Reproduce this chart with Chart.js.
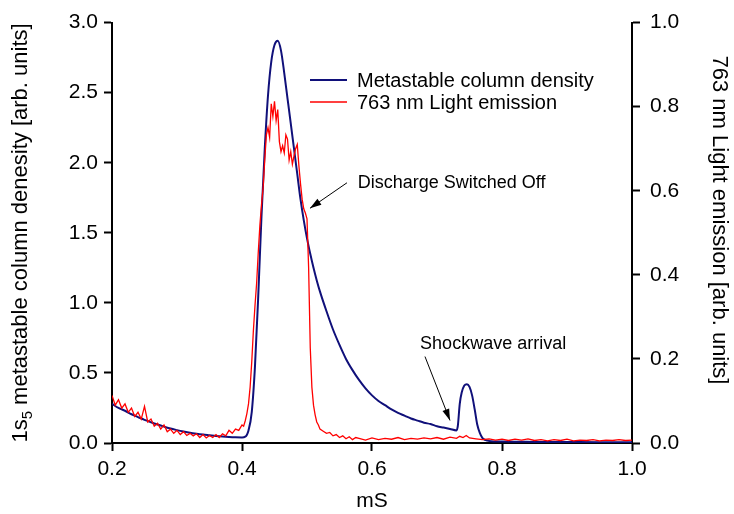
<!DOCTYPE html>
<html>
<head>
<meta charset="utf-8">
<script src="https://cdn.jsdelivr.net/npm/chart.js@4.4.1/dist/chart.umd.min.js"></script>
<style>
  body { margin: 0; background: #fff; }
  #wrap { width: 734px; height: 514px; }
</style>
</head>
<body>
<div id="wrap"><canvas id="chart" width="734" height="514"></canvas></div>
<script>
// time axis (mS)
var xTicks = [0.2, 0.4, 0.6, 0.8, 1.0];
var leftTicks = [0.0, 0.5, 1.0, 1.5, 2.0, 2.5, 3.0];
var rightTicks = [0.0, 0.2, 0.4, 0.6, 0.8, 1.0];

// metastable column density (left axis)
var metaMs = [0.20, 0.21, 0.22, 0.23, 0.24, 0.25, 0.26, 0.27, 0.28, 0.29,
  0.30, 0.31, 0.32, 0.33, 0.34, 0.35, 0.36, 0.37, 0.38, 0.39,
  0.40, 0.405, 0.41, 0.415, 0.42, 0.425, 0.43, 0.435, 0.44, 0.445,
  0.45, 0.455, 0.46, 0.465, 0.47, 0.475, 0.48, 0.485, 0.49, 0.495,
  0.50, 0.505, 0.51, 0.515, 0.52, 0.53, 0.54, 0.55, 0.56, 0.57, 0.58,
  0.59, 0.60, 0.61, 0.62, 0.63, 0.64, 0.65, 0.66, 0.67, 0.68,
  0.69, 0.70, 0.71, 0.72, 0.73, 0.732, 0.735, 0.738, 0.742, 0.746,
  0.750, 0.754, 0.758, 0.762, 0.766, 0.770, 0.775, 0.78, 0.80, 0.85,
  0.90, 0.95, 1.00];
var metaDensity = [0.28, 0.25, 0.23, 0.205, 0.185, 0.165, 0.148, 0.132, 0.117, 0.103,
  0.092, 0.082, 0.073, 0.066, 0.060, 0.055, 0.050, 0.046, 0.043, 0.041,
  0.040, 0.045, 0.09, 0.22, 0.55, 1.05, 1.62, 2.10, 2.48, 2.72,
  2.84, 2.87, 2.80, 2.64, 2.46, 2.28, 2.10, 1.92, 1.74, 1.59,
  1.46, 1.35, 1.25, 1.16, 1.08, 0.94, 0.81, 0.70, 0.60, 0.52, 0.45,
  0.39, 0.34, 0.30, 0.27, 0.24, 0.215, 0.195, 0.175, 0.16, 0.145,
  0.135, 0.12, 0.11, 0.10, 0.09, 0.12, 0.28, 0.36, 0.41, 0.42,
  0.40, 0.34, 0.24, 0.13, 0.07, 0.035, 0.02, 0.015, 0.01, 0.008,
  0.007, 0.006, 0.006];

// 763 nm light emission (right axis)
var lightMs = [0.200, 0.205, 0.210, 0.215, 0.220, 0.225, 0.230, 0.235, 0.240, 0.245,
  0.250, 0.255, 0.260, 0.265, 0.270, 0.275, 0.280, 0.285, 0.290, 0.295,
  0.300, 0.305, 0.310, 0.315, 0.320, 0.325, 0.330, 0.335, 0.340, 0.345,
  0.350, 0.355, 0.360, 0.365, 0.370, 0.375, 0.380, 0.385, 0.390, 0.395,
  0.400, 0.4025, 0.405, 0.4075, 0.410, 0.4125, 0.415, 0.4175, 0.420, 0.4225,
  0.425, 0.4275, 0.430, 0.4325, 0.435, 0.4375, 0.440, 0.4425, 0.445, 0.4475,
  0.450, 0.4525, 0.455, 0.4575, 0.460, 0.4625, 0.465, 0.4675, 0.470, 0.4725,
  0.475, 0.4775, 0.480, 0.4825, 0.485, 0.4875, 0.490, 0.4925, 0.495, 0.4975,
  0.500, 0.5025, 0.505, 0.5075, 0.510, 0.5125, 0.515, 0.5175, 0.520, 0.525,
  0.530, 0.535, 0.540, 0.545, 0.550, 0.555, 0.560, 0.565, 0.570, 0.575,
  0.58, 0.59, 0.60, 0.61, 0.62, 0.63, 0.64, 0.65, 0.66, 0.67,
  0.68, 0.69, 0.70, 0.71, 0.72, 0.73, 0.735, 0.74, 0.745, 0.75,
  0.76, 0.77, 0.78, 0.79, 0.80, 0.81, 0.82, 0.83, 0.84, 0.85,
  0.86, 0.87, 0.88, 0.89, 0.90, 0.91, 0.92, 0.93, 0.94, 0.95,
  0.96, 0.97, 0.98, 0.99, 1.00];
var lightEmission = [0.113, 0.090, 0.103, 0.083, 0.093, 0.073, 0.083, 0.063, 0.073, 0.057,
  0.087, 0.050, 0.057, 0.040, 0.047, 0.033, 0.043, 0.027, 0.033, 0.023,
  0.030, 0.020, 0.027, 0.018, 0.023, 0.017, 0.022, 0.013, 0.020, 0.012,
  0.018, 0.013, 0.020, 0.013, 0.022, 0.017, 0.030, 0.023, 0.033, 0.030,
  0.043, 0.040, 0.053, 0.070, 0.093, 0.133, 0.193, 0.267, 0.327, 0.380,
  0.453, 0.517, 0.567, 0.607, 0.673, 0.733, 0.750, 0.727, 0.807, 0.777,
  0.813, 0.767, 0.793, 0.717, 0.693, 0.707, 0.690, 0.733, 0.723, 0.673,
  0.693, 0.663, 0.683, 0.700, 0.710, 0.660, 0.617, 0.580, 0.557, 0.547,
  0.533, 0.417, 0.227, 0.133, 0.090, 0.067, 0.050, 0.043, 0.033, 0.028,
  0.023, 0.025, 0.017, 0.020, 0.013, 0.017, 0.010, 0.015, 0.008, 0.013,
  0.011, 0.007, 0.012, 0.008, 0.011, 0.009, 0.013, 0.008, 0.011, 0.009,
  0.012, 0.010, 0.013, 0.009, 0.014, 0.011, 0.016, 0.013, 0.018, 0.012,
  0.010, 0.008, 0.010, 0.007, 0.009, 0.006, 0.009, 0.007, 0.010, 0.006,
  0.008, 0.005, 0.008, 0.006, 0.009, 0.005, 0.007, 0.006, 0.008, 0.005,
  0.007, 0.006, 0.008, 0.006, 0.007];

var seriesNames = ['Metastable column density', '763 nm Light emission'];
var leftTitle = ['1s', '5', ' metastable column denesity [arb. units]'];
var rightTitle = '763 nm Light emission [arb. units]';

// arrows, in data units of the left axis
var notes = [
  { text: 'Discharge Switched Off', tx: 0.578, ty: 1.857, x0: 0.5615, y0: 1.857, x1: 0.5046, y1: 1.675 },
  { text: 'Shockwave arrival', tx: 0.674, ty: 0.708, x0: 0.6815, y0: 0.617, x1: 0.720, y1: 0.161 }
];

var FONT = '"Liberation Sans", Arial, Helvetica, sans-serif';
var BLUE = '#10107a';
var RED = '#ff0000';

var toPoints = function(xs, ys) {
  return xs.map(function(x, i) { return { x: x, y: ys[i] }; });
};

var axisGrid = { drawOnChartArea: false, drawTicks: true, tickLength: 8, tickColor: '#000', tickWidth: 2, color: '#000' };
var axisBorder = { display: true, color: '#000', width: 2 };
var tickFont = { family: FONT, size: 21 };

var extras = {
  id: 'extras',
  afterDraw: function(chart) {
    var ctx = chart.ctx;
    var xs = chart.scales.x, ys = chart.scales.yL;
    ctx.save();

    // legend
    var lx = 310, ly = 80;
    [BLUE, RED].forEach(function(col, i) {
      ctx.strokeStyle = col;
      ctx.lineWidth = i === 0 ? 2 : 1.5;
      ctx.beginPath();
      ctx.moveTo(lx, ly + i * 22);
      ctx.lineTo(lx + 37, ly + i * 22);
      ctx.stroke();
      ctx.fillStyle = '#000';
      ctx.font = '20px ' + FONT;
      ctx.textAlign = 'left';
      ctx.textBaseline = 'middle';
      ctx.fillText(seriesNames[i], lx + 47, ly + i * 22 + 1);
    });

    // annotations
    notes.forEach(function(n) {
      var px0 = xs.getPixelForValue(n.x0), py0 = ys.getPixelForValue(n.y0);
      var px1 = xs.getPixelForValue(n.x1), py1 = ys.getPixelForValue(n.y1);
      ctx.strokeStyle = '#000';
      ctx.fillStyle = '#000';
      ctx.lineWidth = 1;
      ctx.beginPath();
      ctx.moveTo(px0, py0);
      ctx.lineTo(px1, py1);
      ctx.stroke();
      var a = Math.atan2(py1 - py0, px1 - px0);
      ctx.beginPath();
      ctx.moveTo(px1, py1);
      ctx.lineTo(px1 - 12 * Math.cos(a - 0.3), py1 - 12 * Math.sin(a - 0.3));
      ctx.lineTo(px1 - 12 * Math.cos(a + 0.3), py1 - 12 * Math.sin(a + 0.3));
      ctx.closePath();
      ctx.fill();
      ctx.font = '18px ' + FONT;
      ctx.textAlign = 'left';
      ctx.textBaseline = 'middle';
      ctx.fillText(n.text, xs.getPixelForValue(n.tx), ys.getPixelForValue(n.ty));
    });

    // left axis title with subscript
    ctx.save();
    ctx.translate(21, 233);
    ctx.rotate(-Math.PI / 2);
    ctx.fillStyle = '#000';
    ctx.textBaseline = 'middle';
    ctx.textAlign = 'left';
    var big = '22px ' + FONT, small = '15px ' + FONT;
    ctx.font = big;
    var w0 = ctx.measureText(leftTitle[0]).width;
    var w2 = ctx.measureText(leftTitle[2]).width;
    ctx.font = small;
    var w1 = ctx.measureText(leftTitle[1]).width;
    var start = -(w0 + w1 + w2) / 2;
    ctx.font = big;
    ctx.fillText(leftTitle[0], start, 0);
    ctx.font = small;
    ctx.fillText(leftTitle[1], start + w0, 7);
    ctx.font = big;
    ctx.fillText(leftTitle[2], start + w0 + w1, 0);
    ctx.restore();

    // right axis title
    ctx.save();
    ctx.translate(719, 220);
    ctx.rotate(Math.PI / 2);
    ctx.fillStyle = '#000';
    ctx.font = '22px ' + FONT;
    ctx.textAlign = 'center';
    ctx.textBaseline = 'middle';
    ctx.fillText(rightTitle, 0, 0);
    ctx.restore();

    ctx.restore();
  }
};

var chart = new Chart(document.getElementById('chart').getContext('2d'), {
  type: 'line',
  data: {
    datasets: [
      {
        label: seriesNames[0],
        data: toPoints(metaMs, metaDensity),
        yAxisID: 'yL',
        borderColor: BLUE,
        borderWidth: 2,
        pointRadius: 0,
        cubicInterpolationMode: 'monotone',
        order: 2
      },
      {
        label: seriesNames[1],
        data: toPoints(lightMs, lightEmission),
        yAxisID: 'yR',
        borderColor: RED,
        borderWidth: 1.3,
        pointRadius: 0,
        tension: 0,
        order: 1
      }
    ]
  },
  options: {
    responsive: false,
    animation: false,
    events: [],
    layout: { padding: { top: 15, left: 0, right: 0, bottom: 0 } },
    plugins: { legend: { display: false }, tooltip: { enabled: false } },
    scales: {
      x: {
        type: 'linear', min: 0.2, max: 1.0,
        afterBuildTicks: function(s) { s.ticks = xTicks.map(function(v) { return { value: v }; }); },
        ticks: { font: tickFont, color: '#000', padding: 6, maxRotation: 0,
          callback: function(v) { return v.toFixed(1); } },
        grid: axisGrid, border: axisBorder,
        title: { display: true, text: 'mS', font: tickFont, color: '#000', padding: { top: 0, bottom: 0 } },
        afterFit: function(s) { s.height = 71; }
      },
      yL: {
        type: 'linear', position: 'left', min: 0, max: 3,
        afterBuildTicks: function(s) { s.ticks = leftTicks.map(function(v) { return { value: v }; }); },
        ticks: { font: tickFont, color: '#000', padding: 6,
          callback: function(v) { return v.toFixed(1); } },
        grid: axisGrid, border: axisBorder,
        afterFit: function(s) { s.width = 112; }
      },
      yR: {
        type: 'linear', position: 'right', min: 0, max: 1,
        afterBuildTicks: function(s) { s.ticks = rightTicks.map(function(v) { return { value: v }; }); },
        ticks: { font: tickFont, color: '#000', padding: 10,
          callback: function(v) { return v.toFixed(1); } },
        grid: axisGrid, border: axisBorder,
        afterFit: function(s) { s.width = 102; }
      }
    }
  },
  plugins: [extras]
});
</script>
</body>
</html>
